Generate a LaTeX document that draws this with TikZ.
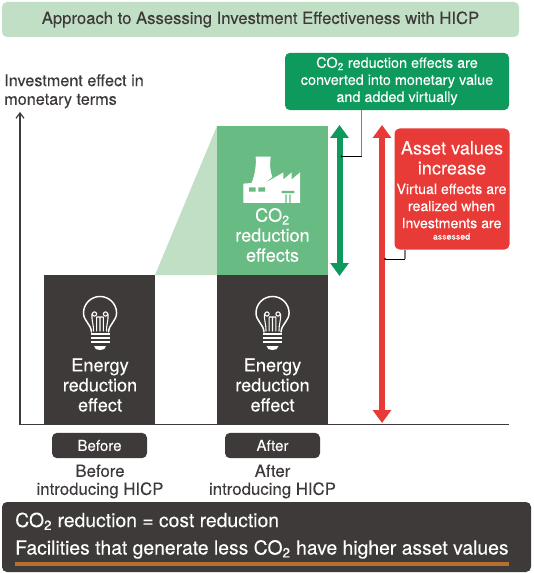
\documentclass[tikz,border=0pt]{standalone}
\usepackage{fontspec}
\setmainfont[FakeBold=0.12]{TeX Gyre Heros}
\usetikzlibrary{arrows.meta}
\definecolor{ink}{HTML}{3E3A39}
\definecolor{palegreen}{HTML}{C0DFC4}
\definecolor{midgreen}{HTML}{68BB83}
\definecolor{deepgreen}{HTML}{0F9A5D}
\definecolor{alarmred}{HTML}{E83A36}
\definecolor{rust}{HTML}{B66F2F}
\newcommand{\bulbicon}[2]{%
  \begin{scope}[shift={(#1,#2)},draw=white,line width=1.1pt,line cap=round]
    \draw (-8.5,19) .. controls (-9,11) and (-16.5,8) .. (-16.5,0)
      arc[start angle=180,end angle=0,radius=12.4pt]
      .. controls (16.5,8) and (9,11) .. (8.5,19);
    \draw[line width=.8pt] (-5.5,1) circle[radius=1.6pt] (5.5,1) circle[radius=1.6pt];
    \draw[line width=.8pt] (-3.3,4) -- (3.3,4) (-3.3,4) -- (-3.3,18) (3.3,4) -- (3.3,18) (0,4) -- (0,18)
      (-8,1) .. controls (-8.5,8) and (-6.5,10) .. (-6.5,18) (8,1) .. controls (8.5,8) and (6.5,10) .. (6.5,18);
    \draw[line width=1.4pt,line cap=butt] (-9.5,21) -- (9.5,21) (-9.5,25) -- (9.5,25) (-9.5,29) -- (9.5,29);
    \fill[white] (-6,33) -- (6,33) .. controls (6,36) and (3,37) .. (0,37) .. controls (-3,37) and (-6,36) .. (-6,33) -- cycle;
  \end{scope}}
\tikzset{
  x=0.75pt,y=-0.75pt,
  panel/.style={rounded corners=3.75pt,inner sep=0pt,align=center,text=white},
  barbox/.style={fill=ink,inner sep=0pt,align=center,text=white,minimum width=83.25pt,minimum height=112.5pt},
  barlabel/.style={font=\fontsize{13.6pt}{15pt}\selectfont},
  caption/.style={text=ink,align=center,inner sep=0pt,font=\fontsize{12.6pt}{13.5pt}\selectfont},
  pointer/.style={line width=.8pt,gray},
  pointerend/.style={line width=.6pt,black},
  bigarrow/.style={line width=4.5pt,{Triangle[length=9.75pt,width=13.5pt]}-{Triangle[length=9.75pt,width=13.5pt]}}
}
\begin{document}
\begin{tikzpicture}
\useasboundingbox (0,0) rectangle (533,573);
% title
\node[panel,fill=palegreen,text=ink,minimum width=387.75pt,minimum height=26.25pt,font=\fontsize{12.5pt}{14pt}\selectfont] (title) at (260.5,19.5) {Approach to Assessing Investment Effectiveness with HICP};
% axis label and axes
\node[anchor=north west,text=ink,align=left,inner sep=0pt,font=\fontsize{12.15pt}{14pt}\selectfont] (ylabel) at (4,74) {Investment effect in\\monetary terms};
% bars
\fill[palegreen] (155,275) -- (217,126) -- (217,275) -- cycle;
\node[barbox] (barbefore) at (99.5,350) {};
\node[barbox] (barafter) at (272.5,350) {};
\node[fill=midgreen,minimum width=83.25pt,minimum height=111.75pt,inner sep=0pt] (barco) at (272.5,200.5) {};
\coordinate (axistop) at (20,112);
\coordinate (origin) at (20,424.5);
\coordinate (axisend) at (509,424.5);
\draw[ink,line width=.9pt,-{Straight Barb[length=4pt,width=6pt]}] (origin) -- (axistop);
\draw[ink,line width=.9pt] (origin) -- (axisend);
% icons
\bulbicon{100}{313}
\bulbicon{272.5}{313}
\begin{scope}[shift={(235,149.7)},x=0.25pt,y=-0.2625pt]
  \fill[white] (62,20) -- (107,20) .. controls (104,45) and (105,60) .. (112,78) -- (90,95) -- (145,65) -- (145,85) -- (170,65) -- (170,85) -- (195,65) -- (195,152) -- (25,152) -- (25,97) -- (50,95) .. controls (60,70) and (64,45) .. (62,20) -- cycle;
  \fill[midgreen] (42,108) rectangle (62,120) (70,108) rectangle (90,120);
  \fill[midgreen] (140,118) rectangle (178,124) (151,128) rectangle (155,152) (163,128) rectangle (167,152);
\end{scope}
% bar texts
\node[text=white,align=center,inner sep=0pt,barlabel] (textco) at (272.5,235) {CO\textsubscript{2}\\reduction\\effects};
\node[text=white,align=center,inner sep=0pt,barlabel] (textbefore) at (100,385) {Energy\\reduction\\effect};
\node[text=white,align=center,inner sep=0pt,barlabel] (textafter) at (272.5,385) {Energy\\reduction\\effect};
% before/after
\node[panel,fill=ink,minimum width=71.25pt,minimum height=19pt,font=\fontsize{11.3pt}{13pt}\selectfont] (tagbefore) at (99.5,445.5) {Before};
\node[panel,fill=ink,minimum width=71.25pt,minimum height=19pt,font=\fontsize{11.3pt}{13pt}\selectfont] (tagafter) at (272.5,445.5) {After};
\node[caption] (capbefore) at (100,481.5) {Before\\introducing HICP};
\node[caption] (capafter) at (272.5,481.5) {After\\introducing HICP};
% callouts
\node[panel,fill=deepgreen,minimum width=168pt,minimum height=43pt,font=\fontsize{10.8pt}{12.8pt}\selectfont] (gbox) at (397,81.5) {\raisebox{-1pt}{\begin{tabular}{@{}c@{}}CO\textsubscript{2} reduction effects are\\converted into monetary value\\and added virtually\end{tabular}}};
\node[panel,fill=alarmred,minimum width=86.25pt,minimum height=90.75pt] (rbox) at (452,189) {};
\node[text=white,align=center,inner sep=0pt,font=\fontsize{13.6pt}{15pt}\selectfont] (rhead) at (452,158) {Asset values\\increase};
\node[text=white,align=center,inner sep=0pt,font=\fontsize{10.6pt}{12.8pt}\selectfont] (rbody) at (451.5,206) {Virtual effects are\\realized when\\Investments are};
\node[text=white,inner sep=0pt,font=\fontsize{6.6pt}{7.5pt}\selectfont] (rsmall) at (451.5,236.5) {assessed};
% big arrows
\coordinate (gtop) at (339.5,125);
\coordinate (gbot) at (339.5,276);
\coordinate (rtop) at (382,125);
\coordinate (rbot) at (382,423);
\draw[bigarrow,deepgreen] (gtop) -- (gbot);
\draw[bigarrow,alarmred] (rtop) -- (rbot);
% pointers
\coordinate (gelbow) at (361.5,156.5);
\coordinate (gend) at (341.5,156.5);
\coordinate (relbow) at (405,259);
\coordinate (rend) at (385,259);
\draw[pointer] (gbox.south -| gelbow) -- (gelbow);
\draw[pointerend] (gelbow) -- (gend);
\fill (gend) circle[radius=.75pt];
\draw[pointer] (rbox.south -| relbow) -- (relbow);
\draw[pointerend] (relbow) -- (rend);
\fill (rend) circle[radius=.75pt];
% footer
\node[panel,fill=ink,minimum width=396.75pt,minimum height=52.5pt] (footer) at (266.5,537) {};
\node[anchor=base west,text=white,inner sep=0pt,font=\fontsize{14.5pt}{16pt}\selectfont] (foot1) at (15,527) {CO\textsubscript{2} reduction = cost reduction};
\node[anchor=base west,text=white,inner sep=0pt,font=\fontsize{14.5pt}{16pt}\selectfont] (foot2) at (15,554.5) {Facilities that generate less CO\textsubscript{2} have higher asset values};
\fill[rust] (15,561.5) rectangle (509,565.5);
\end{tikzpicture}
\end{document}
